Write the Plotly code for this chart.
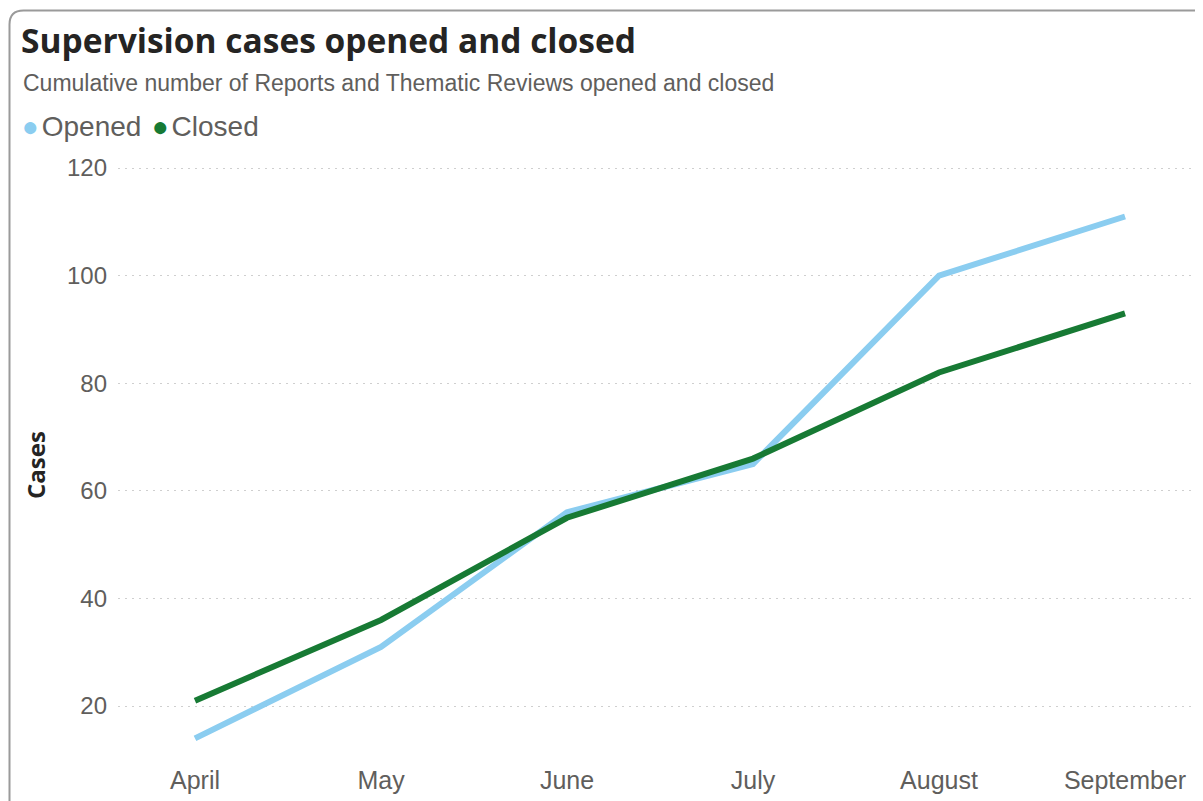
import plotly.graph_objects as go

months = ["April", "May", "June", "July", "August", "September"]
opened = [14, 31, 56, 65, 100, 111]
closed = [21, 36, 55, 66, 82, 93]
y_ticks = [20, 40, 60, 80, 100, 120]

OFF = 8  # page body margin
W, H = 1195, 793
L, R, T, B = 118 - OFF, 6, 160 - OFF, 46
pw, ph = W - L - R, H - T - B

def px(x):
    return (x - OFF - L) / pw

def py(y):
    return 1 - (y - OFF - T) / ph

OPEN_C = "#8BCDF0"
CLOSE_C = "#177A34"
TXT = "#605E5C"

fig = go.Figure()
fig.add_trace(go.Scatter(x=months, y=opened, mode="lines", name="Opened",
                         line=dict(color=OPEN_C, width=6)))
fig.add_trace(go.Scatter(x=months, y=closed, mode="lines", name="Closed",
                         line=dict(color=CLOSE_C, width=6)))

# frame with rounded top-left corner
x0, y0, r = 9.5, 10.5, 14
x1, y1 = 1230, 830
path = (f"M {px(x0)},{py(y1)} L {px(x0)},{py(y0 + r)} "
        f"Q {px(x0)},{py(y0)} {px(x0 + r)},{py(y0)} "
        f"L {px(x1)},{py(y0)}")
fig.add_shape(type="path", path=path, xref="paper", yref="paper",
              line=dict(color="#9A9A9A", width=2))

fig.add_annotation(text="<b>Supervision cases opened and closed</b>",
                   xref="paper", yref="paper", x=px(19), y=py(40),
                   xanchor="left", yanchor="middle", showarrow=False,
                   font=dict(family="Open Sans", size=33.5, color="#252423"))
fig.add_annotation(text="Cumulative number of Reports and Thematic Reviews opened and closed",
                   xref="paper", yref="paper", x=px(21), y=py(83),
                   xanchor="left", yanchor="middle", showarrow=False,
                   font=dict(family="Liberation Sans, Arial", size=23, color=TXT))
sp = "<span style='font-size:10px'>&nbsp;</span>"
fig.add_annotation(text=f"<span style='color:{OPEN_C}'>●</span>{sp}Opened {sp}"
                        f"<span style='color:{CLOSE_C}'>●</span>{sp}Closed",
                   xref="paper", yref="paper", x=px(20), y=py(127),
                   xanchor="left", yanchor="middle", showarrow=False,
                   font=dict(family="Liberation Sans, Arial", size=28, color=TXT))
fig.add_annotation(text="<b>Cases</b>", textangle=-90,
                   xref="paper", yref="paper", x=px(35), y=py(465),
                   xanchor="center", yanchor="middle", showarrow=False,
                   font=dict(family="Open Sans", size=24, color="#252423"))

fig.update_layout(
    width=W, height=H,
    margin=dict(l=L, r=R, t=T, b=B),
    paper_bgcolor="white", plot_bgcolor="white",
    showlegend=False,
    font=dict(family="Liberation Sans, Arial", color=TXT),
)
fig.update_xaxes(range=[-0.414, 5.387], showgrid=False, showline=False,
                 zeroline=False, ticks="", tickfont=dict(size=25, color=TXT),
                 ticklabelstandoff=8)
fig.update_yaxes(range=[10.9, 121.5], tickvals=y_ticks, showline=False,
                 zeroline=False, gridcolor="#CFCFCF", griddash="2px,5px", gridwidth=1,
                 ticks="", tickfont=dict(size=24, color=TXT), ticklabelstandoff=10)

fig.write_html("out.html")
